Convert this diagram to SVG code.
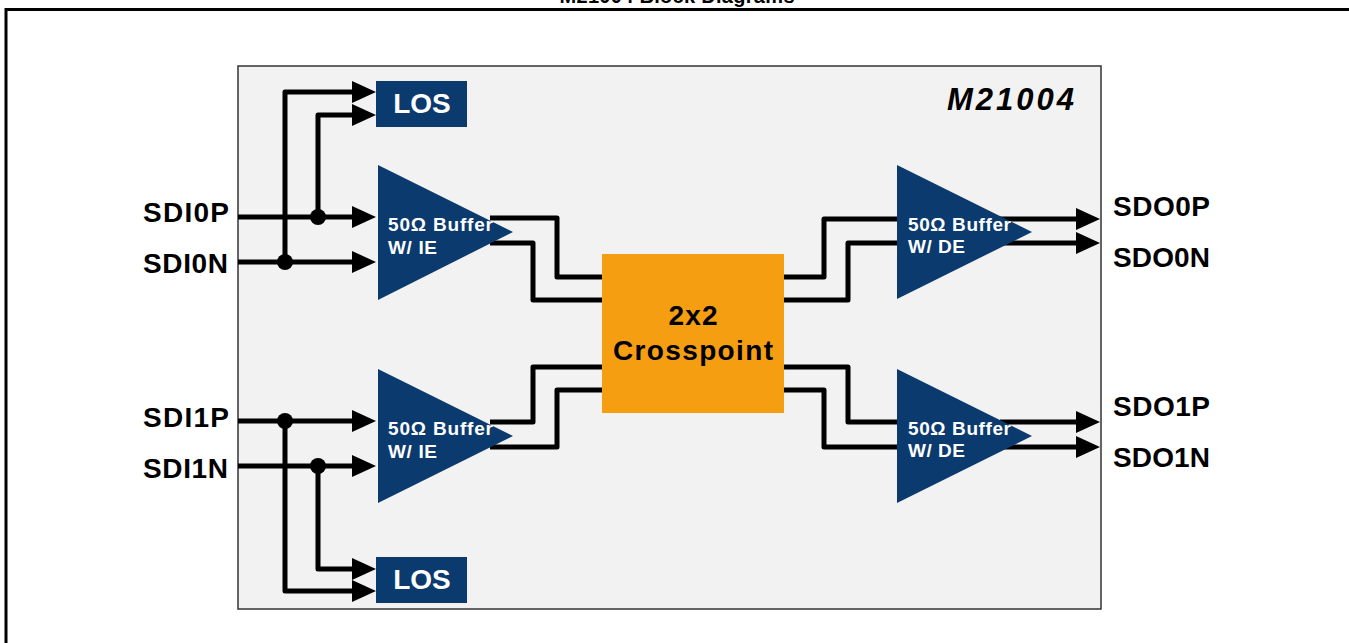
<svg xmlns="http://www.w3.org/2000/svg" width="1349" height="643" viewBox="0 0 1349 643">
<defs>
<style>
.t{font-family:"Liberation Sans",Arial,sans-serif;font-weight:bold;}
.lbl{font-size:28px;fill:#000;}
.wt{fill:#fff;}
.buf{font-size:19px;}
.w{fill:none;stroke:#000;stroke-width:5;stroke-linejoin:round;}
.navy{fill:#0b3a6e;}
</style>
<marker id="ah" markerUnits="userSpaceOnUse" markerWidth="24" markerHeight="22" refX="14" refY="11" orient="auto">
<path d="M0,0 L24,11 L0,22 z" fill="#000"/>
</marker>
</defs>
<rect width="1349" height="643" fill="#fff"/>
<text class="t" x="677" y="3" font-size="20" text-anchor="middle" textLength="235">M21004 Block Diagrams</text>
<path d="M6,643 V9.5 H1349" fill="none" stroke="#000" stroke-width="3"/>
<g id="chip">
<rect x="238" y="66" width="863" height="543" fill="#f2f2f2" stroke="#333" stroke-width="1.5"/>
<text class="t" x="947" y="110" font-size="31" font-style="italic" textLength="127">M21004</text>
</g>
<g id="connectors">
<path class="w" d="M238,217 H366" marker-end="url(#ah)"/>
<path class="w" d="M238,262 H366" marker-end="url(#ah)"/>
<path class="w" d="M285,262 V92 H366" marker-end="url(#ah)"/>
<path class="w" d="M318,217 V115 H366" marker-end="url(#ah)"/>
<path class="w" d="M490,218 H557 V277 H604"/>
<path class="w" d="M490,243 H533 V300 H604"/>
<path class="w" d="M238,421 H366" marker-end="url(#ah)"/>
<path class="w" d="M238,466 H366" marker-end="url(#ah)"/>
<path class="w" d="M285,421 V591 H366" marker-end="url(#ah)"/>
<path class="w" d="M318,466 V569 H366" marker-end="url(#ah)"/>
<path class="w" d="M490,422 H533 V367 H604"/>
<path class="w" d="M490,447 H557 V390 H604"/>
<path class="w" d="M782,277 H824 V219 H900"/>
<path class="w" d="M782,300 H848 V243 H900"/>
<path class="w" d="M1000,219 H1090" marker-end="url(#ah)"/>
<path class="w" d="M1000,243 H1090" marker-end="url(#ah)"/>
<path class="w" d="M782,367 H848 V422 H900"/>
<path class="w" d="M782,390 H824 V447 H900"/>
<path class="w" d="M1000,422 H1090" marker-end="url(#ah)"/>
<path class="w" d="M1000,447 H1090" marker-end="url(#ah)"/>
<circle cx="318" cy="217" r="8"/>
<circle cx="285" cy="262" r="8"/>
<circle cx="285" cy="421" r="8"/>
<circle cx="318" cy="466" r="8"/>
</g>
<g id="los0">
<rect class="navy" x="376" y="81" width="91" height="46"/>
<text class="t wt" x="422" y="113" font-size="28" text-anchor="middle">LOS</text>
</g>
<g id="los1">
<rect class="navy" x="376" y="557" width="91" height="46"/>
<text class="t wt" x="422" y="589" font-size="28" text-anchor="middle">LOS</text>
</g>
<g id="inbuf0">
<polygon class="navy" points="378,165 513,232 378,300"/>
<text class="t wt buf" x="388" y="231" textLength="105">50Ω Buffer</text>
<text class="t wt buf" x="388" y="254" textLength="49">W/ IE</text>
</g>
<g id="inbuf1">
<polygon class="navy" points="378,369 513,436 378,503"/>
<text class="t wt buf" x="388" y="435" textLength="105">50Ω Buffer</text>
<text class="t wt buf" x="388" y="458" textLength="49">W/ IE</text>
</g>
<g id="outbuf0">
<polygon class="navy" points="897,165 1032,232 897,299"/>
<text class="t wt buf" x="908" y="231" textLength="103">50Ω Buffer</text>
<text class="t wt buf" x="908" y="253" textLength="57">W/ DE</text>
</g>
<g id="outbuf1">
<polygon class="navy" points="897,369 1032,436 897,503"/>
<text class="t wt buf" x="908" y="435" textLength="103">50Ω Buffer</text>
<text class="t wt buf" x="908" y="457" textLength="57">W/ DE</text>
</g>
<g id="crosspoint">
<rect x="602" y="254" width="182" height="159" fill="#f59e12"/>
<text class="t" x="693" y="325" font-size="28" text-anchor="middle" textLength="49">2x2</text>
<text class="t" x="693" y="360" font-size="28" text-anchor="middle" textLength="160">Crosspoint</text>
</g>
<g id="labels">
<text class="t lbl" x="143" y="222" textLength="86">SDI0P</text>
<text class="t lbl" x="143" y="273" textLength="85">SDI0N</text>
<text class="t lbl" x="143" y="427" textLength="86">SDI1P</text>
<text class="t lbl" x="143" y="478" textLength="85">SDI1N</text>
<text class="t lbl" x="1113" y="216" textLength="97">SDO0P</text>
<text class="t lbl" x="1113" y="267" textLength="97">SDO0N</text>
<text class="t lbl" x="1113" y="416" textLength="97">SDO1P</text>
<text class="t lbl" x="1113" y="467" textLength="97">SDO1N</text>
</g>
</svg>
